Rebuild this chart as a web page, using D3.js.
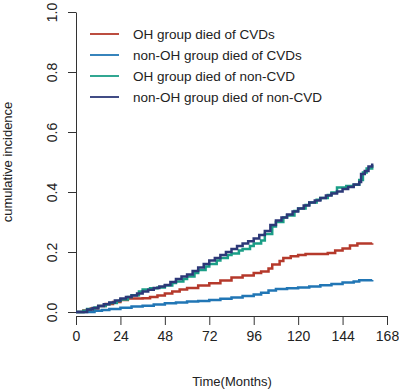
<!DOCTYPE html>
<html lang="en">
<head>
  <meta charset="UTF-8">
  <title>Cumulative incidence</title>
  <script src="https://d3js.org/d3.v7.min.js"></script>
  <style>
    body { margin: 0; background: #fff; }
    text { font-family: "Liberation Sans", Arial, sans-serif; fill: #222; }
  </style>
</head>
<body>
  <div id="chart"></div>

  <script>
    // data (months, cumulative incidence)
    const seriesNames = ["OH group died of CVDs", "non-OH group died of CVDs",
                         "OH group died of non-CVD", "non-OH group died of non-CVD"];
    const seriesColors = ["#b5392b", "#2176b5", "#1a9e86", "#2c3878"];

    const ohCvd = [[0,0],[4,0.005],[8,0.012],[12,0.02],[16,0.027],[20,0.033],[24,0.04],[28,0.045],
      [36,0.046],[40,0.05],[44,0.055],[48,0.062],[52,0.068],[56,0.075],[60,0.08],[66,0.088],[72,0.096],
      [78,0.105],[84,0.115],[90,0.122],[96,0.13],[100,0.135],[104,0.145],[106,0.158],[110,0.17],
      [112,0.18],[116,0.186],[120,0.19],[124,0.193],[136,0.197],[140,0.205],[144,0.212],[148,0.222],
      [152,0.228],[160,0.229]];
    const nonOhCvd = [[0,0],[6,0],[10,0.004],[14,0.007],[18,0.01],[24,0.014],[30,0.018],[36,0.021],
      [42,0.025],[48,0.029],[54,0.032],[60,0.035],[66,0.037],[72,0.04],[78,0.044],[84,0.048],
      [90,0.053],[96,0.058],[100,0.064],[104,0.072],[108,0.077],[114,0.079],[120,0.082],[126,0.085],
      [132,0.089],[138,0.093],[144,0.098],[150,0.102],[153,0.106],[160,0.107]];
    const ohNonCvd = [[0,0],[4,0.004],[6,0.01],[10,0.015],[12,0.02],[16,0.026],[18,0.03],[22,0.037],
      [24,0.042],[28,0.05],[30,0.056],[34,0.068],[36,0.075],[40,0.079],[44,0.082],[48,0.088],
      [52,0.097],[54,0.102],[58,0.11],[60,0.118],[64,0.13],[66,0.14],[70,0.152],[72,0.16],[76,0.172],
      [78,0.18],[82,0.19],[84,0.195],[88,0.205],[90,0.21],[94,0.22],[96,0.228],[100,0.238],
      [102,0.26],[106,0.285],[108,0.3],[112,0.315],[114,0.322],[118,0.337],[120,0.345],[124,0.357],
      [126,0.365],[130,0.374],[132,0.38],[136,0.39],[138,0.398],[141,0.415],[146,0.42],[150,0.424],
      [153,0.44],[155,0.465],[157,0.478],[160,0.49]];
    const nonOhNonCvd = [[0,0],[3,0],[6,0.008],[9,0.013],[12,0.02],[15,0.026],[18,0.032],[21,0.038],
      [24,0.045],[27,0.05],[30,0.055],[33,0.062],[36,0.068],[39,0.074],[42,0.08],[45,0.085],[48,0.09],
      [51,0.1],[54,0.11],[57,0.118],[60,0.125],[63,0.137],[66,0.148],[69,0.16],[72,0.172],[75,0.18],
      [78,0.19],[81,0.2],[84,0.21],[87,0.22],[90,0.228],[93,0.236],[96,0.245],[99,0.257],[102,0.27],
      [105,0.29],[108,0.305],[111,0.315],[114,0.325],[117,0.335],[120,0.345],[123,0.355],[126,0.365],
      [129,0.372],[132,0.38],[135,0.388],[138,0.395],[141,0.402],[144,0.41],[147,0.417],[150,0.425],
      [153,0.433],[154,0.46],[156,0.47],[158,0.485],[160,0.495]];
    const allSeries = [ohCvd, nonOhCvd, ohNonCvd, nonOhNonCvd];

    const xTicks = [0, 24, 48, 72, 96, 120, 144, 168];
    const yTicks = [0, 0.2, 0.4, 0.6, 0.8, 1.0];

    const width = 399, height = 392;
    const svg = d3.select("#chart").append("svg")
      .attr("width", width)
      .attr("height", height);

    const x = d3.scaleLinear().domain([0, 168]).range([76, 387]);
    const y = d3.scaleLinear().domain([0, 1]).range([312, 12]);

    // axes, R style
    const xAxis = svg.append("g")
      .attr("transform", "translate(0,316)")
      .call(d3.axisBottom(x).tickValues(xTicks).tickSize(9).tickSizeOuter(0).tickPadding(6));
    xAxis.selectAll("text").style("font-size", "14px");

    const yAxis = svg.append("g")
      .attr("transform", "translate(76,0)")
      .call(d3.axisLeft(y).tickValues(yTicks).tickSize(8).tickSizeOuter(0).tickFormat(d3.format(".1f")));
    yAxis.selectAll("text")
      .style("font-size", "14px")
      .attr("text-anchor", "middle")
      .attr("transform", "rotate(-90)")
      .attr("x", 0)
      .attr("y", -24)
      .attr("dy", "0.35em");

    svg.selectAll(".domain, .tick line").attr("stroke", "#333");

    svg.append("text")
      .attr("transform", "translate(12,162) rotate(-90)")
      .attr("text-anchor", "middle")
      .style("font-size", "13px")
      .text("cumulative incidence");

    svg.append("text")
      .attr("x", 232)
      .attr("y", 386)
      .attr("text-anchor", "middle")
      .style("font-size", "13px")
      .text("Time(Months)");

    // curves
    const line = d3.line()
      .x(d => x(d[0]))
      .y(d => y(d[1]))
      .curve(d3.curveStepAfter);

    svg.selectAll(".curve")
      .data(allSeries)
      .enter()
      .append("path")
      .attr("class", "curve")
      .attr("fill", "none")
      .attr("stroke", (d, i) => seriesColors[i])
      .attr("stroke-width", 2.5)
      .attr("d", line);

    // legend
    const legend = svg.selectAll(".legend")
      .data(seriesNames)
      .enter()
      .append("g")
      .attr("class", "legend")
      .attr("transform", (d, i) => `translate(0,${34 + i * 21})`);

    legend.append("line")
      .attr("x1", 90).attr("x2", 119)
      .attr("stroke", (d, i) => seriesColors[i])
      .attr("stroke-width", 1.8);

    legend.append("text")
      .attr("x", 133)
      .attr("dy", "0.35em")
      .style("font-size", "13.5px")
      .text(d => d);
  </script>
</body>
</html>
